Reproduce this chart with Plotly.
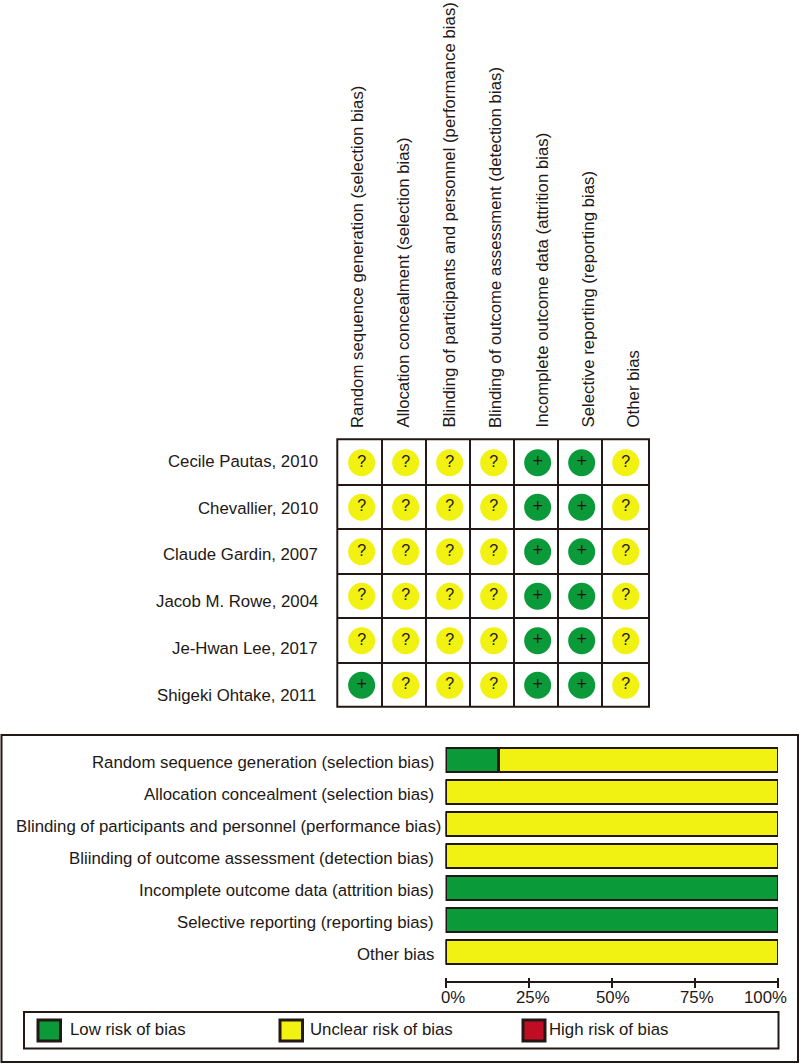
import plotly.graph_objects as go

# ---- data ----
studies = ["Cecile Pautas, 2010", "Chevallier, 2010", "Claude Gardin, 2007",
           "Jacob M. Rowe, 2004", "Je-Hwan Lee, 2017", "Shigeki Ohtake, 2011"]
domains_top = ["Random sequence generation (selection bias)",
               "Allocation concealment (selection bias)",
               "Blinding of participants and personnel (performance bias)",
               "Blinding of outcome assessment (detection bias)",
               "Incomplete outcome data (attrition bias)",
               "Selective reporting (reporting bias)",
               "Other bias"]
domains_bar = ["Random sequence generation (selection bias)",
               "Allocation concealment (selection bias)",
               "Blinding of participants and personnel (performance bias)",
               "Bliinding of outcome assessment (detection bias)",
               "Incomplete outcome data (attrition bias)",
               "Selective reporting (reporting bias)",
               "Other bias"]
judgements = [list("???" "?++?"),
              list("???" "?++?"),
              list("???" "?++?"),
              list("???" "?++?"),
              list("???" "?++?"),
              list("+??" "?++?")]
low_pct = [16, 0, 0, 0, 100, 100, 0]
unclear_pct = [84, 100, 100, 100, 0, 0, 100]
high_pct = [0, 0, 0, 0, 0, 0, 0]
pct_ticks = [0, 25, 50, 75, 100]
pct_labels = ["0%", "25%", "50%", "75%", "100%"]
legend_names = ["Low risk of bias", "Unclear risk of bias", "High risk of bias"]

# ---- style / layout ----
W, H = 800, 1064
INK = "#231815"
GREEN = "#0B9A3A"
YELLOW = "#F1F112"
RED = "#C00D23"
FONT = "Liberation Sans"
FS = 16.8

def px(x): return x / W
def py(y): return 1 - y / H

fig = go.Figure()

# traffic-light grid
colour = {"?": YELLOW, "+": GREEN}
glyph = {"?": 16, "+": 18}
xs, ys, cs, ts, gs = [], [], [], [], []
for r, row in enumerate(judgements):
    for c, v in enumerate(row):
        xs.append(c); ys.append(r); cs.append(colour[v]); ts.append(v); gs.append(glyph[v])
fig.add_trace(go.Scatter(x=xs, y=ys, mode="markers+text", text=ts,
                         textposition="middle center",
                         textfont=dict(family=FONT, size=gs, color=INK),
                         marker=dict(size=27, color=cs, line=dict(width=0)),
                         xaxis="x", yaxis="y", showlegend=False, cliponaxis=False))

# summary bars
for vals, col, name in zip([low_pct, unclear_pct, high_pct], [GREEN, YELLOW, RED], legend_names):
    fig.add_trace(go.Bar(y=list(range(len(domains_bar))), x=vals, orientation="h", name=name,
                         marker=dict(color=col, line=dict(color=INK, width=2.5)),
                         xaxis="x2", yaxis="y2", showlegend=False))

annotations = []
# column headers
for i, (t, xc) in enumerate(zip(domains_top, [357, 402.5, 449, 495.5, 542, 588, 633])):
    annotations.append(dict(text=t, xref="paper", yref="paper", x=px(xc), y=py(430),
                            textangle=-90, xanchor="center", yanchor="bottom", showarrow=False,
                            font=dict(family=FONT, size=FS, color=INK)))
# study labels
for i, (t, sx, sy) in enumerate(zip(studies, [0, 0, 0, 0, 0, -2], [1, -1, -3, -5.5, -7.5, -10])):
    annotations.append(dict(text=t, xref="paper", yref="y", x=px(320), y=i, xshift=sx, yshift=sy,
                            xanchor="right", yanchor="middle", showarrow=False,
                            font=dict(family=FONT, size=FS, color=INK)))
# bar labels
for i, (t, shift) in enumerate(zip(domains_bar, [0, 0, 7, 0, 0, 0, 0])):
    annotations.append(dict(text=t, xref="paper", yref="y2", x=px(436), y=i, xshift=shift, yshift=-2,
                            xanchor="right", yanchor="middle", showarrow=False,
                            font=dict(family=FONT, size=FS, color=INK)))
# percent labels
for v, t, shift in zip(pct_ticks, pct_labels, [7, 4, 1, 2, -13]):
    annotations.append(dict(text=t, xref="x2", yref="paper", x=v, y=py(997), xshift=shift,
                            xanchor="center", yanchor="middle", showarrow=False,
                            font=dict(family=FONT, size=FS, color=INK)))
# legend
for t, xl in zip(legend_names, [68, 308, 547]):
    annotations.append(dict(text=t, xref="paper", yref="paper", x=px(xl), y=py(1029),
                            xanchor="left", yanchor="middle", showarrow=False,
                            font=dict(family=FONT, size=FS, color=INK)))

def rect(x0, y0, x1, y1, fill="rgba(0,0,0,0)", w=2):
    return dict(type="rect", xref="paper", yref="paper", x0=px(x0), x1=px(x1),
                y0=py(y0), y1=py(y1), line=dict(color=INK, width=w), fillcolor=fill)

shapes = [
    rect(337.3, 439.3, 649, 706.7),          # grid frame
    rect(1.5, 735, 798, 1062),               # panel frame
    rect(24, 1012, 778.5, 1048.5),           # legend frame
    rect(38, 1020, 60.5, 1041, GREEN, 3),
    rect(280, 1020, 302.5, 1041, YELLOW, 3),
    rect(523, 1020, 545, 1041, RED, 3),
    dict(type="line", xref="x2", yref="paper", x0=0, x1=100, y0=py(982), y1=py(982),
         line=dict(color=INK, width=2)),
]

fig.update_layout(
    width=W, height=H, autosize=False, margin=dict(l=0, r=0, t=0, b=0),
    paper_bgcolor="white", plot_bgcolor="white", barmode="stack", bargap=0.24,
    showlegend=False, annotations=annotations, shapes=shapes,
    font=dict(family=FONT, size=FS, color=INK),
    xaxis=dict(domain=[px(337.3), px(649)], range=[-0.553, 6.53], anchor="y",
               tickvals=list(range(7)), showticklabels=False, ticks="", showgrid=False, zeroline=False,
               minor=dict(tickvals=[i + 0.46 for i in range(6)], showgrid=True,
                          gridcolor=INK, gridwidth=2, ticks="")),
    yaxis=dict(domain=[py(706.7), py(439.3)], range=[5.483, -0.526], anchor="x",
               tickvals=list(range(6)), showticklabels=False, ticks="", showgrid=False, zeroline=False,
               minor=dict(tickvals=[i + 0.5 for i in range(5)], showgrid=True,
                          gridcolor=INK, gridwidth=2, ticks="")),
    xaxis2=dict(domain=[px(445.5), px(778)], range=[0, 100], anchor="free", position=py(977),
                tickvals=pct_ticks, showticklabels=False, ticks="outside", ticklen=10, tickwidth=2,
                tickcolor=INK, showline=False, showgrid=False, zeroline=False),
    yaxis2=dict(domain=[py(968), py(744)], range=[6.5, -0.5], anchor="x2",
                tickvals=list(range(7)), showticklabels=False, ticks="", showgrid=False, zeroline=False),
)
fig.write_html("out.html", config=dict(displayModeBar=False),
               post_script="document.body.style.margin='0';document.documentElement.style.overflow='hidden';")
